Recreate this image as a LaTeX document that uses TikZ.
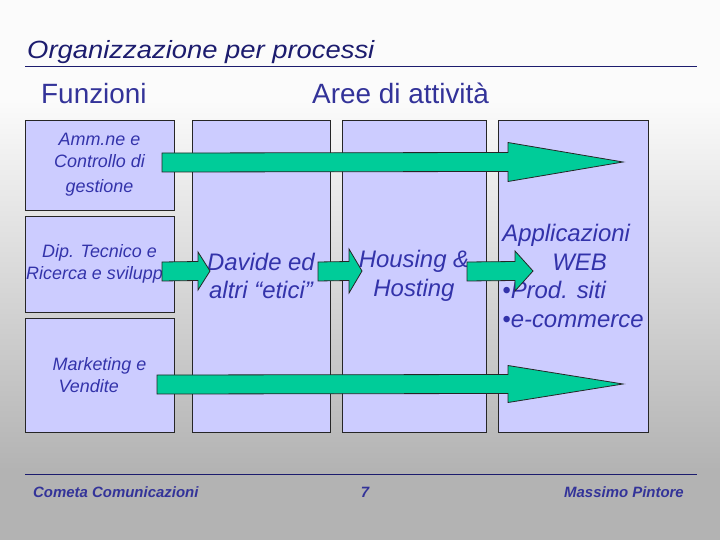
\documentclass[tikz,border=0pt]{standalone}
\usepackage{fontspec}
\setmainfont{Liberation Sans}
\newfontfamily\titlefont[FakeStretch=1.1]{Liberation Sans}
\usetikzlibrary{calc}
\definecolor{OrgNavy}{RGB}{28,28,110}
\definecolor{OrgBlue}{RGB}{51,51,153}
\definecolor{OrgText}{RGB}{51,51,170}
\definecolor{OrgLilac}{RGB}{204,204,255}
\definecolor{OrgGreen}{RGB}{0,204,153}
\definecolor{OrgBgTop}{RGB}{251,251,251}
\definecolor{OrgBgBottom}{RGB}{179,179,179}
\tikzset{
  org/box/.style={
    draw=black!85,
    line width=0.8bp,
    fill=OrgLilac,
    inner sep=0pt,
    align=center,
    text=OrgText
  },
  org/side/.style={org/box, minimum width=149bp, font=\fontsize{18}{22}\selectfont\itshape},
  org/col/.style={org/box, minimum height=312bp, font=\fontsize{24}{29}\selectfont\itshape},
  org/arrow/.style={draw=black!85, line width=0.8bp, fill=OrgGreen},
  org/rule/.style={draw=OrgNavy, line width=0.9bp},
  org/title/.style={font=\titlefont\fontsize{25}{28}\selectfont\itshape, text=OrgNavy, anchor=base west, inner sep=0pt},
  org/header/.style={font=\fontsize{28}{32}\selectfont, text=OrgBlue, anchor=base west, inner sep=0pt},
  org/footer/.style={font=\fontsize{15}{17}\selectfont\bfseries\itshape, text=OrgBlue, inner sep=0pt}
}
% block arrow: start, tip, shaft half width, head half width, head length
\newcommand{\orgarrow}[5]{%
  \draw[org/arrow] ($(#1)+(0,-#3)$) -- ($(#2)+(-#5,-#3)$) -- ($(#2)+(-#5,-#4)$) -- (#2)
    -- ($(#2)+(-#5,#4)$) -- ($(#2)+(-#5,#3)$) -- ($(#1)+(0,#3)$) -- cycle;}
\begin{document}
\begin{tikzpicture}[x=1bp,y=-1bp]
  \useasboundingbox (0,0) rectangle (720,540);
  % background
  \fill[OrgBgTop] (0,0) rectangle (720,100);
  \shade[top color=OrgBgTop, bottom color=OrgBgBottom] (0,100) rectangle (720,470);
  \fill[OrgBgBottom] (0,470) rectangle (720,540);

  % title and headers
  \node[org/title] (title) at (27,59) {Organizzazione per processi};
  \draw[org/rule] (25,66.5) -- (697,66.5);
  \node[org/header] (funz) at (41,104) {Funzioni};
  \node[org/header] (aree) at (312,104) {Aree di attività};

  % functions
  \node[org/side,minimum height=90bp] (amm) at (99.5,165) {Amm.ne e\\Controllo di\\[3bp]gestione};
  \node[org/side,minimum height=96bp] (tec) at (99.5,264) {Dip. Tecnico e\\Ricerca e sviluppo};
  \node[org/side,minimum height=114bp,align=left] (mkt) at (99.5,375) {Marketing e\\\hspace*{6bp}Vendite};

  % activity areas
  \node[org/col,minimum width=138bp] (etici) at (261,276) {Davide ed\\altri “etici”};
  \node[org/col,minimum width=144bp] (host) at (414,276) {Housing \&\\Hosting};
  \node[org/col,minimum width=150bp,align=left] (web) at (573,276)
    {Applicazioni\\\hspace*{50bp}WEB\\\textbullet Prod. siti\\\textbullet e-commerce};

  % process arrows
  \coordinate (ammin) at (162,162.5);
  \coordinate (ammout) at (623,162);
  \coordinate (tecin) at (162,271.5);
  \coordinate (tecout) at (210,271);
  \coordinate (eticin) at (318,271.5);
  \coordinate (eticout) at (362,271);
  \coordinate (hostin) at (467,271.5);
  \coordinate (hostout) at (533,271);
  \coordinate (mktin) at (157,384.5);
  \coordinate (mktout) at (623,384);
  \orgarrow{ammin}{ammout}{9.5}{19.5}{115}
  \orgarrow{tecin}{tecout}{9.5}{19}{12}
  \orgarrow{eticin}{eticout}{9.5}{22}{13}
  \orgarrow{hostin}{hostout}{9.5}{20}{18}
  \orgarrow{mktin}{mktout}{9.5}{18.5}{115}

  % footer
  \draw[org/rule] (25,474) -- (697,474);
  \node[org/footer,anchor=base west] (cometa) at (33,497) {Cometa Comunicazioni};
  \node[org/footer,anchor=base] (page) at (365,497) {7};
  \node[org/footer,anchor=base east] (autore) at (684,497) {Massimo Pintore};
\end{tikzpicture}
\end{document}
